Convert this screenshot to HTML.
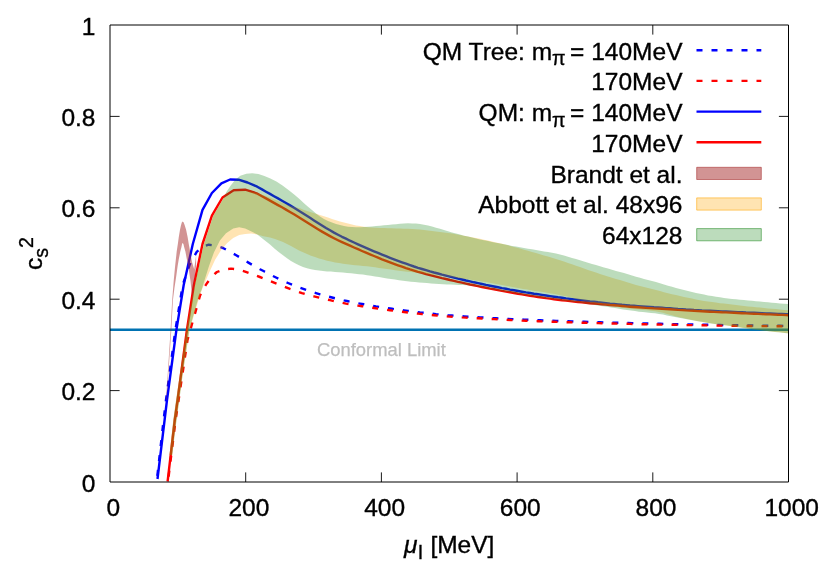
<!DOCTYPE html>
<html lang="en"><head><meta charset="utf-8"><title>Speed of sound vs isospin chemical potential</title>
<style>html,body{margin:0;padding:0;background:#fff;}body{width:830px;height:581px;overflow:hidden;}svg{display:block;}text{font-family:"Liberation Sans", Arial, Helvetica, sans-serif;font-size:24.5px;fill:#000;stroke:#000;stroke-width:0.35px;}</style></head><body>
<svg width="830" height="581" viewBox="0 0 830 581">
<rect width="830" height="581" fill="#fff"/>
<g stroke="#000" stroke-width="0.9" fill="none">
<path d="M245.70 482.00 V472.40 M245.70 25.00 V34.60"/>
<path d="M381.40 482.00 V472.40 M381.40 25.00 V34.60"/>
<path d="M517.10 482.00 V472.40 M517.10 25.00 V34.60"/>
<path d="M652.80 482.00 V472.40 M652.80 25.00 V34.60"/>
<path d="M110.00 390.60 H119.60 M788.50 390.60 H778.90"/>
<path d="M110.00 299.20 H119.60 M788.50 299.20 H778.90"/>
<path d="M110.00 207.80 H119.60 M788.50 207.80 H778.90"/>
<path d="M110.00 116.40 H119.60 M788.50 116.40 H778.90"/>
</g>
<g fill="none" stroke-width="2.4" stroke-linejoin="round">
<path d="M157.0 479.0 L163.6 420.0 L166.0 400.0 L175.4 330.0 L182.7 285.0 L189.6 264.8 L196.7 251.9 L203.0 246.5 L208.7 244.7 L216.0 245.6 L223.0 248.0 L236.2 255.2 L240.0 257.5 L244.0 260.0 L248.0 262.4 L252.0 264.7 L256.0 266.9 L260.0 269.2 L264.0 271.3 L268.0 273.5 L272.0 275.5 L276.0 277.5 L280.0 279.4 L284.0 281.3 L288.0 283.0 L292.0 284.7 L296.0 286.3 L300.0 287.8 L304.0 289.2 L308.0 290.6 L312.0 291.9 L316.0 293.1 L320.0 294.3 L324.0 295.4 L328.0 296.5 L332.0 297.5 L336.0 298.5 L340.0 299.4 L344.0 300.4 L348.0 301.2 L352.0 302.1 L356.0 302.9 L360.0 303.6 L364.0 304.3 L368.0 305.0 L372.0 305.7 L376.0 306.4 L380.0 307.0 L384.0 307.6 L388.0 308.2 L392.0 308.8 L396.0 309.4 L400.0 309.9 L404.0 310.4 L408.0 310.9 L412.0 311.4 L416.0 311.9 L420.0 312.4 L424.0 312.8 L428.0 313.2 L432.0 313.6 L436.0 314.1 L440.0 314.5 L444.0 314.8 L448.0 315.2 L452.0 315.5 L456.0 315.8 L460.0 316.1 L464.0 316.4 L468.0 316.7 L472.0 316.9 L476.0 317.2 L480.0 317.4 L484.0 317.6 L488.0 317.8 L492.0 318.1 L496.0 318.3 L500.0 318.5 L504.0 318.7 L508.0 318.9 L512.0 319.1 L516.0 319.3 L520.0 319.5 L524.0 319.6 L528.0 319.8 L532.0 320.0 L536.0 320.1 L540.0 320.3 L544.0 320.5 L548.0 320.6 L552.0 320.8 L556.0 320.9 L560.0 321.1 L564.0 321.2 L568.0 321.3 L572.0 321.4 L576.0 321.6 L580.0 321.7 L584.0 321.8 L588.0 321.9 L592.0 322.1 L596.0 322.2 L600.0 322.3 L604.0 322.4 L608.0 322.5 L612.0 322.6 L616.0 322.7 L620.0 322.8 L624.0 322.9 L628.0 323.0 L632.0 323.1 L636.0 323.2 L640.0 323.3 L644.0 323.4 L648.0 323.5 L652.0 323.6 L656.0 323.7 L660.0 323.8 L664.0 323.9 L668.0 324.0 L672.0 324.1 L676.0 324.2 L680.0 324.3 L684.0 324.4 L688.0 324.4 L692.0 324.5 L696.0 324.6 L700.0 324.7 L704.0 324.8 L708.0 324.8 L712.0 324.9 L716.0 325.0 L720.0 325.0 L724.0 325.1 L728.0 325.1 L732.0 325.2 L736.0 325.3 L740.0 325.3 L744.0 325.4 L748.0 325.5 L752.0 325.5 L756.0 325.6 L760.0 325.6 L764.0 325.6 L768.0 325.7 L772.0 325.7 L776.0 325.8 L780.0 325.8 L784.0 325.9 L788.0 325.9 L788.3 325.9" stroke="#0000ff" stroke-dasharray="6 9" stroke-dashoffset="11.9"/>
<path d="M168.0 481.5 L175.6 420.0 L178.6 400.0 L187.5 340.0 L192.0 324.0 L196.1 309.6 L200.0 295.6 L203.5 288.5 L207.3 282.7 L211.5 277.0 L216.9 272.0 L223.5 269.5 L231.1 268.6 L238.5 269.5 L245.8 271.8 L259.9 277.0 L262.0 277.8 L266.0 279.4 L270.0 281.0 L274.0 282.6 L278.0 284.2 L282.0 285.8 L286.0 287.4 L290.0 288.9 L294.0 290.3 L298.0 291.7 L302.0 293.1 L306.0 294.3 L310.0 295.4 L314.0 296.4 L318.0 297.4 L322.0 298.4 L326.0 299.3 L330.0 300.2 L334.0 301.1 L338.0 301.9 L342.0 302.8 L346.0 303.6 L350.0 304.2 L354.0 304.9 L358.0 305.6 L362.0 306.2 L366.0 306.8 L370.0 307.4 L374.0 308.0 L378.0 308.6 L382.0 309.2 L386.0 309.7 L390.0 310.3 L394.0 310.8 L398.0 311.3 L402.0 311.8 L406.0 312.3 L410.0 312.8 L414.0 313.2 L418.0 313.6 L422.0 314.0 L426.0 314.4 L430.0 314.8 L434.0 315.2 L438.0 315.6 L442.0 315.9 L446.0 316.3 L450.0 316.6 L454.0 316.9 L458.0 317.1 L462.0 317.4 L466.0 317.6 L470.0 317.9 L474.0 318.1 L478.0 318.3 L482.0 318.5 L486.0 318.7 L490.0 318.9 L494.0 319.1 L498.0 319.3 L502.0 319.6 L506.0 319.8 L510.0 320.0 L514.0 320.2 L518.0 320.4 L522.0 320.6 L526.0 320.7 L530.0 320.9 L534.0 321.1 L538.0 321.2 L542.0 321.4 L546.0 321.5 L550.0 321.7 L554.0 321.8 L558.0 321.9 L562.0 322.1 L566.0 322.2 L570.0 322.3 L574.0 322.4 L578.0 322.6 L582.0 322.7 L586.0 322.8 L590.0 322.9 L594.0 323.0 L598.0 323.1 L602.0 323.2 L606.0 323.3 L610.0 323.4 L614.0 323.5 L618.0 323.6 L622.0 323.7 L626.0 323.8 L630.0 323.9 L634.0 324.0 L638.0 324.1 L642.0 324.2 L646.0 324.3 L650.0 324.4 L654.0 324.5 L658.0 324.5 L662.0 324.6 L666.0 324.7 L670.0 324.8 L674.0 324.8 L678.0 324.9 L682.0 325.0 L686.0 325.1 L690.0 325.1 L694.0 325.2 L698.0 325.2 L702.0 325.3 L706.0 325.4 L710.0 325.4 L714.0 325.5 L718.0 325.6 L722.0 325.6 L726.0 325.7 L730.0 325.8 L734.0 325.8 L738.0 325.9 L742.0 325.9 L746.0 326.0 L750.0 326.0 L754.0 326.1 L758.0 326.1 L762.0 326.1 L766.0 326.1 L770.0 326.2 L774.0 326.2 L778.0 326.2 L782.0 326.3 L786.0 326.3 L788.3 326.3" stroke="#ff0000" stroke-dasharray="6 9" stroke-dashoffset="10.0"/>
<path d="M110.0 329.67 H788.5" stroke="#0072b2" stroke-width="2.5"/>
<path d="M157.5 479.0 L164.6 420.0 L167.0 400.0 L176.4 330.0 L183.7 285.0 L192.8 244.0 L202.5 209.9 L211.9 193.0 L221.4 183.3 L230.1 179.5 L238.5 179.7 L247.5 182.5 L257.2 186.7 L262.0 189.4 L266.0 191.7 L270.0 193.9 L274.0 196.2 L278.0 198.4 L282.0 200.7 L286.0 203.0 L290.0 205.4 L294.0 207.8 L298.0 210.2 L302.0 212.7 L306.0 215.2 L310.0 217.8 L314.0 220.4 L318.0 223.0 L322.0 225.5 L326.0 228.0 L330.0 230.3 L334.0 232.6 L338.0 234.7 L342.0 236.8 L346.0 238.7 L350.0 240.7 L354.0 242.5 L358.0 244.3 L362.0 246.1 L366.0 247.8 L370.0 249.6 L374.0 251.3 L378.0 252.9 L382.0 254.6 L386.0 256.2 L390.0 257.8 L394.0 259.3 L398.0 260.8 L402.0 262.3 L406.0 263.7 L410.0 265.1 L414.0 266.5 L418.0 267.8 L422.0 269.0 L426.0 270.2 L430.0 271.4 L434.0 272.5 L438.0 273.5 L442.0 274.6 L446.0 275.6 L450.0 276.6 L454.0 277.6 L458.0 278.6 L462.0 279.5 L466.0 280.5 L470.0 281.4 L474.0 282.3 L478.0 283.1 L482.0 284.0 L486.0 284.9 L490.0 285.7 L494.0 286.5 L498.0 287.3 L502.0 288.1 L506.0 288.8 L510.0 289.6 L514.0 290.3 L518.0 291.0 L522.0 291.7 L526.0 292.4 L530.0 293.0 L534.0 293.7 L538.0 294.3 L542.0 294.9 L546.0 295.5 L550.0 296.1 L554.0 296.7 L558.0 297.3 L562.0 297.8 L566.0 298.4 L570.0 298.9 L574.0 299.4 L578.0 299.9 L582.0 300.4 L586.0 300.9 L590.0 301.4 L594.0 301.8 L598.0 302.3 L602.0 302.7 L606.0 303.1 L610.0 303.6 L614.0 304.0 L618.0 304.4 L622.0 304.8 L626.0 305.1 L630.0 305.5 L634.0 305.8 L638.0 306.1 L642.0 306.4 L646.0 306.7 L650.0 307.0 L654.0 307.3 L658.0 307.5 L662.0 307.8 L666.0 308.1 L670.0 308.3 L674.0 308.6 L678.0 308.9 L682.0 309.1 L686.0 309.4 L690.0 309.6 L694.0 309.9 L698.0 310.1 L702.0 310.4 L706.0 310.6 L710.0 310.8 L714.0 311.0 L718.0 311.2 L722.0 311.4 L726.0 311.5 L730.0 311.7 L734.0 311.9 L738.0 312.1 L742.0 312.3 L746.0 312.5 L750.0 312.6 L754.0 312.8 L758.0 313.0 L762.0 313.2 L766.0 313.4 L770.0 313.5 L774.0 313.7 L778.0 313.9 L782.0 314.0 L786.0 314.2 L788.3 314.3" stroke="#0000ff"/>
<path d="M167.6 481.5 L174.8 420.0 L177.6 400.0 L186.9 330.0 L193.9 285.0 L202.5 244.0 L211.9 215.7 L222.5 197.5 L233.7 190.3 L245.1 189.7 L256.6 193.3 L262.0 196.2 L266.0 198.4 L270.0 200.6 L274.0 202.9 L278.0 205.1 L282.0 207.3 L286.0 209.6 L290.0 212.0 L294.0 214.3 L298.0 216.8 L302.0 219.2 L306.0 221.8 L310.0 224.3 L314.0 226.8 L318.0 229.2 L322.0 231.6 L326.0 233.9 L330.0 236.1 L334.0 238.2 L338.0 240.2 L342.0 242.1 L346.0 243.9 L350.0 245.7 L354.0 247.5 L358.0 249.2 L362.0 251.0 L366.0 252.7 L370.0 254.4 L374.0 256.0 L378.0 257.6 L382.0 259.3 L386.0 260.8 L390.0 262.4 L394.0 263.9 L398.0 265.3 L402.0 266.7 L406.0 268.1 L410.0 269.4 L414.0 270.6 L418.0 271.8 L422.0 272.9 L426.0 274.1 L430.0 275.1 L434.0 276.1 L438.0 277.1 L442.0 278.1 L446.0 279.0 L450.0 280.0 L454.0 280.9 L458.0 281.8 L462.0 282.7 L466.0 283.6 L470.0 284.5 L474.0 285.3 L478.0 286.1 L482.0 287.0 L486.0 287.8 L490.0 288.6 L494.0 289.3 L498.0 290.1 L502.0 290.9 L506.0 291.6 L510.0 292.3 L514.0 293.0 L518.0 293.8 L522.0 294.4 L526.0 295.1 L530.0 295.8 L534.0 296.4 L538.0 297.0 L542.0 297.5 L546.0 298.1 L550.0 298.6 L554.0 299.2 L558.0 299.7 L562.0 300.2 L566.0 300.6 L570.0 301.1 L574.0 301.6 L578.0 302.0 L582.0 302.4 L586.0 302.8 L590.0 303.2 L594.0 303.5 L598.0 303.9 L602.0 304.3 L606.0 304.6 L610.0 305.0 L614.0 305.3 L618.0 305.6 L622.0 306.0 L626.0 306.4 L630.0 306.7 L634.0 307.0 L638.0 307.3 L642.0 307.6 L646.0 307.9 L650.0 308.1 L654.0 308.4 L658.0 308.6 L662.0 308.8 L666.0 309.1 L670.0 309.3 L674.0 309.6 L678.0 309.9 L682.0 310.1 L686.0 310.4 L690.0 310.6 L694.0 310.8 L698.0 311.1 L702.0 311.3 L706.0 311.5 L710.0 311.7 L714.0 311.9 L718.0 312.1 L722.0 312.3 L726.0 312.4 L730.0 312.6 L734.0 312.8 L738.0 313.0 L742.0 313.2 L746.0 313.4 L750.0 313.6 L754.0 313.7 L758.0 313.9 L762.0 314.1 L766.0 314.3 L770.0 314.4 L774.0 314.6 L778.0 314.8 L782.0 314.9 L786.0 315.1 L788.3 315.2" stroke="#ff0000"/>
</g>
<path d="M166.0 400.0 L168.0 370.0 L170.6 330.0 L172.2 300.0 L173.7 281.0 L175.1 266.3 L176.7 251.6 L177.8 244.3 L178.8 237.0 L180.0 229.7 L181.0 225.3 L181.8 222.6 L182.7 221.6 L183.7 222.6 L184.7 225.3 L186.1 229.7 L187.6 237.0 L188.8 244.3 L190.1 251.6 L192.0 261.9 L194.2 269.2 L196.1 255.3 L196.1 265.5 L192.3 300.0 L191.7 292.7 L190.5 281.0 L189.3 273.0 L188.3 266.3 L186.8 259.0 L185.4 251.6 L184.2 247.2 L183.5 244.2 L182.7 242.8 L182.0 244.2 L181.4 247.2 L180.3 251.6 L178.8 259.0 L177.6 266.3 L176.2 276.5 L174.4 288.3 L172.9 300.0 L171.3 330.0 L168.6 370.0 L166.5 400.0 Z" fill="#a52a2a" fill-opacity="0.5"/>
<path d="M169.5 455.0 L173.3 420.0 L176.1 400.0 L186.4 330.0 L194.7 285.0 L203.9 244.0 L213.3 215.7 L222.2 200.5 L223.5 198.3 L233.7 191.7 L245.1 190.9 L251.1 192.0 L257.2 193.0 L264.5 195.6 L271.7 198.3 L278.9 201.2 L286.2 204.3 L293.4 206.7 L300.0 208.2 L304.0 209.9 L308.0 211.3 L312.0 212.6 L316.0 213.7 L320.0 214.9 L324.0 216.2 L328.0 217.5 L332.0 218.9 L336.0 220.2 L340.0 221.5 L344.0 222.6 L348.0 223.6 L352.0 224.5 L356.0 225.4 L360.0 226.1 L364.0 226.8 L368.0 227.2 L372.0 227.5 L376.0 227.8 L380.0 228.0 L384.0 228.1 L388.0 228.2 L392.0 228.3 L396.0 228.4 L400.0 228.6 L404.0 228.7 L408.0 228.8 L412.0 229.0 L416.0 229.2 L420.0 229.6 L424.0 230.1 L428.0 230.5 L432.0 230.9 L436.0 231.4 L440.0 231.9 L444.0 232.4 L448.0 233.0 L452.0 233.6 L456.0 234.3 L460.0 235.0 L464.0 235.7 L468.0 236.5 L472.0 237.2 L476.0 238.0 L480.0 238.8 L484.0 239.7 L488.0 240.6 L492.0 241.5 L496.0 242.4 L500.0 243.3 L504.0 244.3 L508.0 245.3 L512.0 246.4 L516.0 247.5 L520.0 248.6 L524.0 249.7 L528.0 250.8 L532.0 252.0 L536.0 253.1 L540.0 254.2 L544.0 255.4 L548.0 256.6 L552.0 257.7 L556.0 258.9 L560.0 260.2 L564.0 261.5 L568.0 262.9 L572.0 264.3 L576.0 265.7 L580.0 267.1 L584.0 268.5 L588.0 269.9 L592.0 271.2 L596.0 272.6 L600.0 274.0 L604.0 275.2 L608.0 276.5 L612.0 277.7 L616.0 278.9 L620.0 280.1 L624.0 281.3 L628.0 282.5 L632.0 283.8 L636.0 285.0 L640.0 286.1 L644.0 287.0 L648.0 288.0 L652.0 288.9 L656.0 290.0 L660.0 291.1 L664.0 292.2 L668.0 293.2 L672.0 294.2 L676.0 295.1 L680.0 296.1 L684.0 297.0 L688.0 297.8 L692.0 298.6 L696.0 299.4 L700.0 300.2 L704.0 300.9 L708.0 301.5 L712.0 302.1 L716.0 302.6 L720.0 303.2 L724.0 303.6 L728.0 304.1 L732.0 304.5 L736.0 304.9 L740.0 305.4 L744.0 305.9 L748.0 306.4 L752.0 306.8 L756.0 307.2 L760.0 307.6 L764.0 308.0 L768.0 308.4 L772.0 308.8 L776.0 309.1 L780.0 309.5 L784.0 309.9 L788.0 310.3 L788.3 310.3 L788.3 333.3 L787.0 333.2 L783.0 332.7 L779.0 332.3 L775.0 331.9 L771.0 331.4 L767.0 330.9 L763.0 330.5 L759.0 330.0 L755.0 329.6 L751.0 329.1 L747.0 328.6 L743.0 328.0 L739.0 327.4 L735.0 326.8 L731.0 326.2 L727.0 325.6 L723.0 325.1 L719.0 324.5 L715.0 323.9 L711.0 323.3 L707.0 322.7 L703.0 322.0 L699.0 321.3 L695.0 320.6 L691.0 319.7 L687.0 318.9 L683.0 318.1 L679.0 317.2 L675.0 316.2 L671.0 315.1 L667.0 314.0 L663.0 312.8 L659.0 311.9 L655.0 311.2 L651.0 310.7 L647.0 310.3 L643.0 309.9 L639.0 309.6 L635.0 309.2 L631.0 308.8 L627.0 308.3 L623.0 307.8 L619.0 307.2 L615.0 306.6 L611.0 306.0 L607.0 305.3 L603.0 304.6 L599.0 303.9 L595.0 303.2 L591.0 302.4 L587.0 301.5 L583.0 300.6 L579.0 299.7 L575.0 298.7 L571.0 297.6 L567.0 296.6 L563.0 295.7 L559.0 294.9 L555.0 294.1 L551.0 293.4 L547.0 292.7 L543.0 292.1 L539.0 291.5 L535.0 290.9 L531.0 290.2 L527.0 289.6 L523.0 288.9 L519.0 288.2 L515.0 287.5 L511.0 286.8 L507.0 286.0 L503.0 285.3 L499.0 284.5 L495.0 283.7 L491.0 283.0 L487.0 282.3 L483.0 281.7 L479.0 281.0 L475.0 280.4 L471.0 279.8 L467.0 279.2 L463.0 278.7 L459.0 278.2 L455.0 277.7 L451.0 277.2 L447.0 276.7 L443.0 276.2 L439.0 275.7 L435.0 275.2 L431.0 274.6 L427.0 274.1 L423.0 273.6 L419.0 273.1 L415.0 272.6 L411.0 272.1 L407.0 271.7 L403.0 271.2 L399.0 270.7 L395.0 270.2 L391.0 269.6 L387.0 269.0 L383.0 268.4 L379.0 267.9 L375.0 267.3 L371.0 266.8 L367.0 266.3 L363.0 266.0 L359.0 265.6 L355.0 265.2 L351.0 264.8 L347.0 264.3 L343.0 263.8 L339.0 263.1 L335.0 262.4 L331.0 261.6 L327.0 260.7 L323.0 259.6 L319.0 258.4 L315.0 257.1 L311.0 255.7 L307.0 254.1 L303.0 252.3 L299.0 250.4 L295.0 248.3 L291.0 246.1 L287.0 244.1 L283.0 242.1 L279.0 240.4 L275.0 238.9 L270.0 237.6 L263.3 236.3 L257.3 234.5 L251.3 233.5 L245.2 233.9 L239.2 235.1 L233.2 238.1 L227.2 242.9 L221.1 250.1 L215.1 259.8 L209.0 273.0 L202.8 287.5 L200.2 294.6 L194.3 313.9 L189.8 329.3 L187.8 341.0 L183.3 370.0 L179.3 400.0 L175.2 430.0 L172.3 455.0 Z" fill="#ffa500" fill-opacity="0.3"/>
<path d="M169.5 455.0 L173.3 420.0 L176.1 400.0 L186.4 330.0 L194.7 285.0 L203.9 244.0 L213.3 215.7 L222.2 200.5 L226.4 192.1 L230.7 185.5 L235.5 179.5 L240.3 175.8 L246.3 173.7 L252.3 173.2 L258.4 174.0 L264.4 176.1 L270.4 178.6 L276.4 181.6 L282.5 185.6 L288.5 190.0 L294.5 194.8 L300.0 199.6 L304.0 203.2 L308.0 206.7 L312.0 210.1 L316.0 213.5 L320.0 216.4 L324.0 218.9 L328.0 220.9 L332.0 222.6 L336.0 223.9 L340.0 225.1 L344.0 226.0 L348.0 226.7 L352.0 227.1 L356.0 227.3 L360.0 227.3 L364.0 227.1 L368.0 226.8 L372.0 226.5 L376.0 226.1 L380.0 225.7 L384.0 225.3 L388.0 225.0 L392.0 224.6 L396.0 224.2 L400.0 223.7 L404.0 223.4 L408.0 223.3 L412.0 223.4 L416.0 223.6 L420.0 224.1 L424.0 224.7 L428.0 225.5 L432.0 226.6 L436.0 227.7 L440.0 228.8 L444.0 230.0 L448.0 231.2 L452.0 232.4 L456.0 233.6 L460.0 234.6 L464.0 235.7 L468.0 236.6 L472.0 237.6 L476.0 238.5 L480.0 239.4 L484.0 240.2 L488.0 241.1 L492.0 241.9 L496.0 242.7 L500.0 243.5 L504.0 244.3 L508.0 245.1 L512.0 245.9 L516.0 246.6 L520.0 247.3 L524.0 248.0 L528.0 248.7 L532.0 249.3 L536.0 250.0 L540.0 250.7 L544.0 251.4 L548.0 252.1 L552.0 252.8 L556.0 253.6 L560.0 254.5 L564.0 255.5 L568.0 256.7 L572.0 257.9 L576.0 259.1 L580.0 260.3 L584.0 261.5 L588.0 262.7 L592.0 263.9 L596.0 265.1 L600.0 266.3 L604.0 267.4 L608.0 268.6 L612.0 269.7 L616.0 270.9 L620.0 272.0 L624.0 273.1 L628.0 274.3 L632.0 275.5 L636.0 276.7 L640.0 277.8 L644.0 278.9 L648.0 279.9 L652.0 280.9 L656.0 282.1 L660.0 283.3 L664.0 284.5 L668.0 285.7 L672.0 286.8 L676.0 288.0 L680.0 289.1 L684.0 290.1 L688.0 291.1 L692.0 292.1 L696.0 293.0 L700.0 293.8 L704.0 294.6 L708.0 295.4 L712.0 296.1 L716.0 296.7 L720.0 297.3 L724.0 297.9 L728.0 298.4 L732.0 298.9 L736.0 299.3 L740.0 299.7 L744.0 300.1 L748.0 300.5 L752.0 300.8 L756.0 301.2 L760.0 301.6 L764.0 301.9 L768.0 302.3 L772.0 302.7 L776.0 303.0 L780.0 303.4 L784.0 303.7 L788.0 304.1 L788.3 304.1 L788.3 333.3 L787.0 333.2 L783.0 332.7 L779.0 332.3 L775.0 331.9 L771.0 331.4 L767.0 330.9 L763.0 330.5 L759.0 330.0 L755.0 329.5 L751.0 328.9 L747.0 328.3 L743.0 327.7 L739.0 327.1 L735.0 326.5 L731.0 326.0 L727.0 325.5 L723.0 325.0 L719.0 324.5 L715.0 323.9 L711.0 323.4 L707.0 322.8 L703.0 322.1 L699.0 321.5 L695.0 320.8 L691.0 320.1 L687.0 319.3 L683.0 318.6 L679.0 317.8 L675.0 317.0 L671.0 316.2 L667.0 315.4 L663.0 314.6 L659.0 313.9 L655.0 313.3 L651.0 312.9 L647.0 312.5 L643.0 312.1 L639.0 311.7 L635.0 311.1 L631.0 310.6 L627.0 310.0 L623.0 309.4 L619.0 308.8 L615.0 308.1 L611.0 307.5 L607.0 306.8 L603.0 306.2 L599.0 305.7 L595.0 305.1 L591.0 304.5 L587.0 303.9 L583.0 303.3 L579.0 302.7 L575.0 302.2 L571.0 301.7 L567.0 301.2 L563.0 300.7 L559.0 300.2 L555.0 299.6 L551.0 299.1 L547.0 298.6 L543.0 298.0 L539.0 297.4 L535.0 296.8 L531.0 296.2 L527.0 295.6 L523.0 294.9 L519.0 294.2 L515.0 293.5 L511.0 292.8 L507.0 292.1 L503.0 291.4 L499.0 290.7 L495.0 289.9 L491.0 289.2 L487.0 288.4 L483.0 287.6 L479.0 286.9 L475.0 286.2 L471.0 285.7 L467.0 285.3 L463.0 285.1 L459.0 284.9 L455.0 284.8 L451.0 284.6 L447.0 284.4 L443.0 284.2 L439.0 284.0 L435.0 283.7 L431.0 283.4 L427.0 283.1 L423.0 282.8 L419.0 282.4 L415.0 282.1 L411.0 281.7 L407.0 281.2 L403.0 280.7 L399.0 280.2 L395.0 279.6 L391.0 279.0 L387.0 278.4 L383.0 277.7 L379.0 277.1 L375.0 276.4 L371.0 275.8 L367.0 275.2 L363.0 274.6 L359.0 274.2 L355.0 273.7 L351.0 273.3 L347.0 272.9 L343.0 272.5 L339.0 272.2 L335.0 271.9 L331.0 271.6 L327.0 271.4 L323.0 271.0 L319.0 270.6 L315.0 270.1 L311.0 269.3 L307.0 268.3 L303.0 266.9 L299.0 265.3 L295.0 263.2 L291.0 260.9 L287.0 258.2 L283.0 255.3 L279.0 252.2 L275.0 249.0 L270.0 244.5 L263.3 239.3 L257.3 234.5 L252.5 232.0 L245.2 228.4 L239.2 227.2 L233.2 228.4 L226.0 233.3 L219.9 240.5 L213.9 252.5 L209.1 265.8 L205.3 277.8 L201.5 290.0 L199.4 294.6 L193.8 313.9 L189.5 329.3 L187.8 341.0 L183.3 370.0 L179.3 400.0 L175.2 430.0 L172.3 455.0 Z" fill="#228b22" fill-opacity="0.3"/>
<g fill="none" stroke-width="2.4">
<path d="M696.5 50.2 H761.3" stroke="#0000ff" stroke-dasharray="6 9"/>
<path d="M696.5 80.9 H761.3" stroke="#ff0000" stroke-dasharray="6 9"/>
<path d="M696.5 111.6 H761.3" stroke="#0000ff"/>
<path d="M696.5 142.3 H761.3" stroke="#ff0000"/>
</g>
<rect x="696.7" y="167.3" width="64.6" height="12.2" fill="#a52a2a" fill-opacity="0.5" stroke="#a52a2a" stroke-opacity="0.7" stroke-width="0.8" stroke-linejoin="round"/>
<rect x="696.7" y="197.9" width="64.6" height="12.2" fill="#ffa500" fill-opacity="0.3" stroke="#ffa500" stroke-opacity="0.7" stroke-width="0.8" stroke-linejoin="round"/>
<rect x="696.7" y="228.6" width="64.6" height="12.2" fill="#228b22" fill-opacity="0.3" stroke="#228b22" stroke-opacity="0.7" stroke-width="0.8" stroke-linejoin="round"/>
<path d="M110.0 25.0 H788.5 V482.0 H110.0 Z" fill="none" stroke="#000" stroke-width="1"/>
<g text-anchor="end">
<text x="95.5" y="491.6">0</text>
<text x="95.5" y="400.2">0.2</text>
<text x="95.5" y="308.8">0.4</text>
<text x="95.5" y="217.4">0.6</text>
<text x="95.5" y="126.0">0.8</text>
<text x="95.5" y="34.6">1</text>
</g>
<g text-anchor="middle">
<text x="113.2" y="515.5">0</text>
<text x="248.9" y="515.5">200</text>
<text x="384.6" y="515.5">400</text>
<text x="520.3" y="515.5">600</text>
<text x="656.0" y="515.5">800</text>
<text x="791.7" y="515.5">1000</text>
</g>
<g text-anchor="end">
<text x="682.5" y="59.6">QM Tree: m<tspan font-size="19.6" dy="5.8">π</tspan><tspan dy="-5.8" dx="-2.3"> = 140MeV</tspan></text>
<text x="682.5" y="90.3">170MeV</text>
<text x="682.5" y="121.0">QM: m<tspan font-size="19.6" dy="5.8">π</tspan><tspan dy="-5.8" dx="-2.3"> = 140MeV</tspan></text>
<text x="682.5" y="151.7">170MeV</text>
<text x="682.5" y="182.6">Brandt et al.</text>
<text x="682.5" y="213.2">Abbott et al. 48x96</text>
<text x="682.5" y="243.9">64x128</text>
</g>
<text x="404" y="553"><tspan font-style="italic">μ</tspan><tspan font-size="19.6" dy="5.8" dx="0.4">I</tspan><tspan dy="-5.8" dx="0.3"> [MeV]</tspan></text>
<text transform="translate(42.4 270) rotate(-90)">c<tspan font-size="19.6" dy="5.8">s</tspan><tspan font-size="19.6" dy="-15.4">2</tspan></text>
<text x="317" y="356" style="font-size:18.4px;fill:#bebebe;stroke:#bebebe;stroke-width:0.25px">Conformal Limit</text>
</svg></body></html>
